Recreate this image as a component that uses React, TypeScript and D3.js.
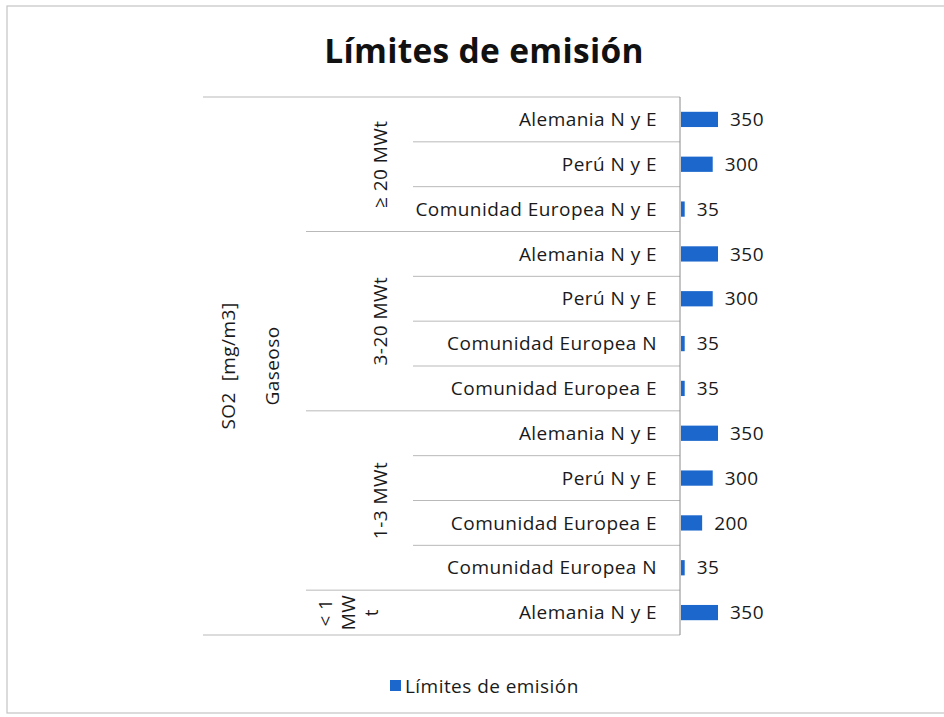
import React from "react";
import * as d3 from "d3";

// Emission limits of SO2 [mg/m3], gaseous fuel, grouped by thermal power
const groups = ["≥ 20 MWt", "3-20 MWt", "1-3 MWt", "< 1 MWt"];
const groupLabelLines = [["≥ 20 MWt"], ["3-20 MWt"], ["1-3 MWt"], ["< 1", "MW", "t"]];
const categories = [
  "Alemania N y E", "Perú N y E", "Comunidad Europea N y E",
  "Alemania N y E", "Perú N y E", "Comunidad Europea N", "Comunidad Europea E",
  "Alemania N y E", "Perú N y E", "Comunidad Europea E", "Comunidad Europea N",
  "Alemania N y E",
];
const categoryGroup = [0, 0, 0, 1, 1, 1, 1, 2, 2, 2, 2, 3];
const values = [350, 300, 35, 350, 300, 35, 35, 350, 300, 200, 35, 350];
const outerLevel1 = "Gaseoso";
const outerLevel2 = "SO2  [mg/m3]";
const title = "Límites de emisión";
const seriesName = "Límites de emisión";

const W = 944;
const H = 717;
const FONT = "'Open Sans', 'Noto Sans', sans-serif";
const BAR = "#1b67cc";
const GRID = "#b9b9b9";
const FS = 19;
const LS = 0.45;

export default function App() {
  const top = 97;
  const bottom = 635;
  const axisX = 680;
  const y = d3
    .scaleBand<number>()
    .domain(d3.range(categories.length))
    .range([top, bottom])
    .paddingInner(0.66)
    .paddingOuter(0.33);
  const rowH = (bottom - top) / categories.length;
  const x = d3.scaleLinear().domain([0, 350]).range([axisX + 1, axisX + 38]);

  // group spans in row indices
  const spans = groups.map((_, g) => {
    const idx = categoryGroup.map((c, i) => (c === g ? i : -1)).filter((i) => i >= 0);
    return { start: d3.min(idx)!, end: d3.max(idx)! + 1 };
  });
  const rowTop = (i: number) => top + i * rowH;

  const txt = { fontSize: FS, fill: "#1a1a1a", letterSpacing: LS };

  return (
    <svg
      width={W}
      height={H}
      style={{ position: "absolute", left: 0, top: 0, background: "#fff" }}
      fontFamily={FONT}
    >
      <rect x={7} y={6} width={W} height={707} fill="#fff" stroke="#c4c4c4" strokeWidth={1.2} />
      <text x={484} y={63} textAnchor="middle" fontSize={33.5} fontWeight={700} fill="#111" letterSpacing={0.3}>
        {title}
      </text>

      {/* outer frame lines of the category axis */}
      <line x1={203} x2={axisX} y1={top} y2={top} stroke={GRID} />
      <line x1={203} x2={axisX} y1={bottom} y2={bottom} stroke={GRID} />
      {/* group separators */}
      {spans.slice(1).map((s, i) => (
        <line key={"g" + i} x1={306} x2={axisX} y1={rowTop(s.start)} y2={rowTop(s.start)} stroke={GRID} />
      ))}
      {/* row separators inside groups */}
      {categories.map((_, i) =>
        i > 0 && categoryGroup[i] === categoryGroup[i - 1] ? (
          <line key={"r" + i} x1={413} x2={axisX} y1={rowTop(i)} y2={rowTop(i)} stroke={GRID} />
        ) : null
      )}
      <line x1={axisX} x2={axisX} y1={top} y2={bottom} stroke="#8a8a8a" />

      {/* category labels */}
      {categories.map((c, i) => (
        <text key={"c" + i} x={657} y={y(i)! + y.bandwidth() / 2} dy="0.35em" textAnchor="end" {...txt}>
          {c}
        </text>
      ))}

      {/* group labels, rotated */}
      {spans.map((s, g) => {
        const cy = (rowTop(s.start) + rowTop(s.end)) / 2;
        const lines = groupLabelLines[g];
        const baseX = lines.length === 1 ? 380 : 325;
        return lines.map((ln, k) => (
          <text
            key={"gl" + g + k}
            transform={`translate(${baseX + k * 23},${cy}) rotate(-90)`}
            dy="0.35em"
            textAnchor="middle"
            {...txt}
          >
            {ln}
          </text>
        ));
      })}

      <text transform={`translate(272,${(top + bottom) / 2}) rotate(-90)`} dy="0.35em" textAnchor="middle" {...txt}>
        {outerLevel1}
      </text>
      <text
        transform={`translate(228,${(top + bottom) / 2}) rotate(-90)`}
        dy="0.35em"
        textAnchor="middle"
        {...txt}
        style={{ whiteSpace: "pre" }}
      >
        {outerLevel2}
      </text>

      {/* bars */}
      {values.map((v, i) => (
        <rect key={"b" + i} x={x(0)} y={y(i)!} width={x(v) - x(0)} height={y.bandwidth()} fill={BAR} />
      ))}
      {/* value labels */}
      {values.map((v, i) => (
        <text key={"v" + i} x={x(v) + 12} y={y(i)! + y.bandwidth() / 2} dy="0.35em" {...txt}>
          {v}
        </text>
      ))}

      {/* legend */}
      <rect x={390} y={680} width={11} height={11} fill={BAR} />
      <text x={405} y={686} dy="0.35em" {...txt}>
        {seriesName}
      </text>
    </svg>
  );
}
